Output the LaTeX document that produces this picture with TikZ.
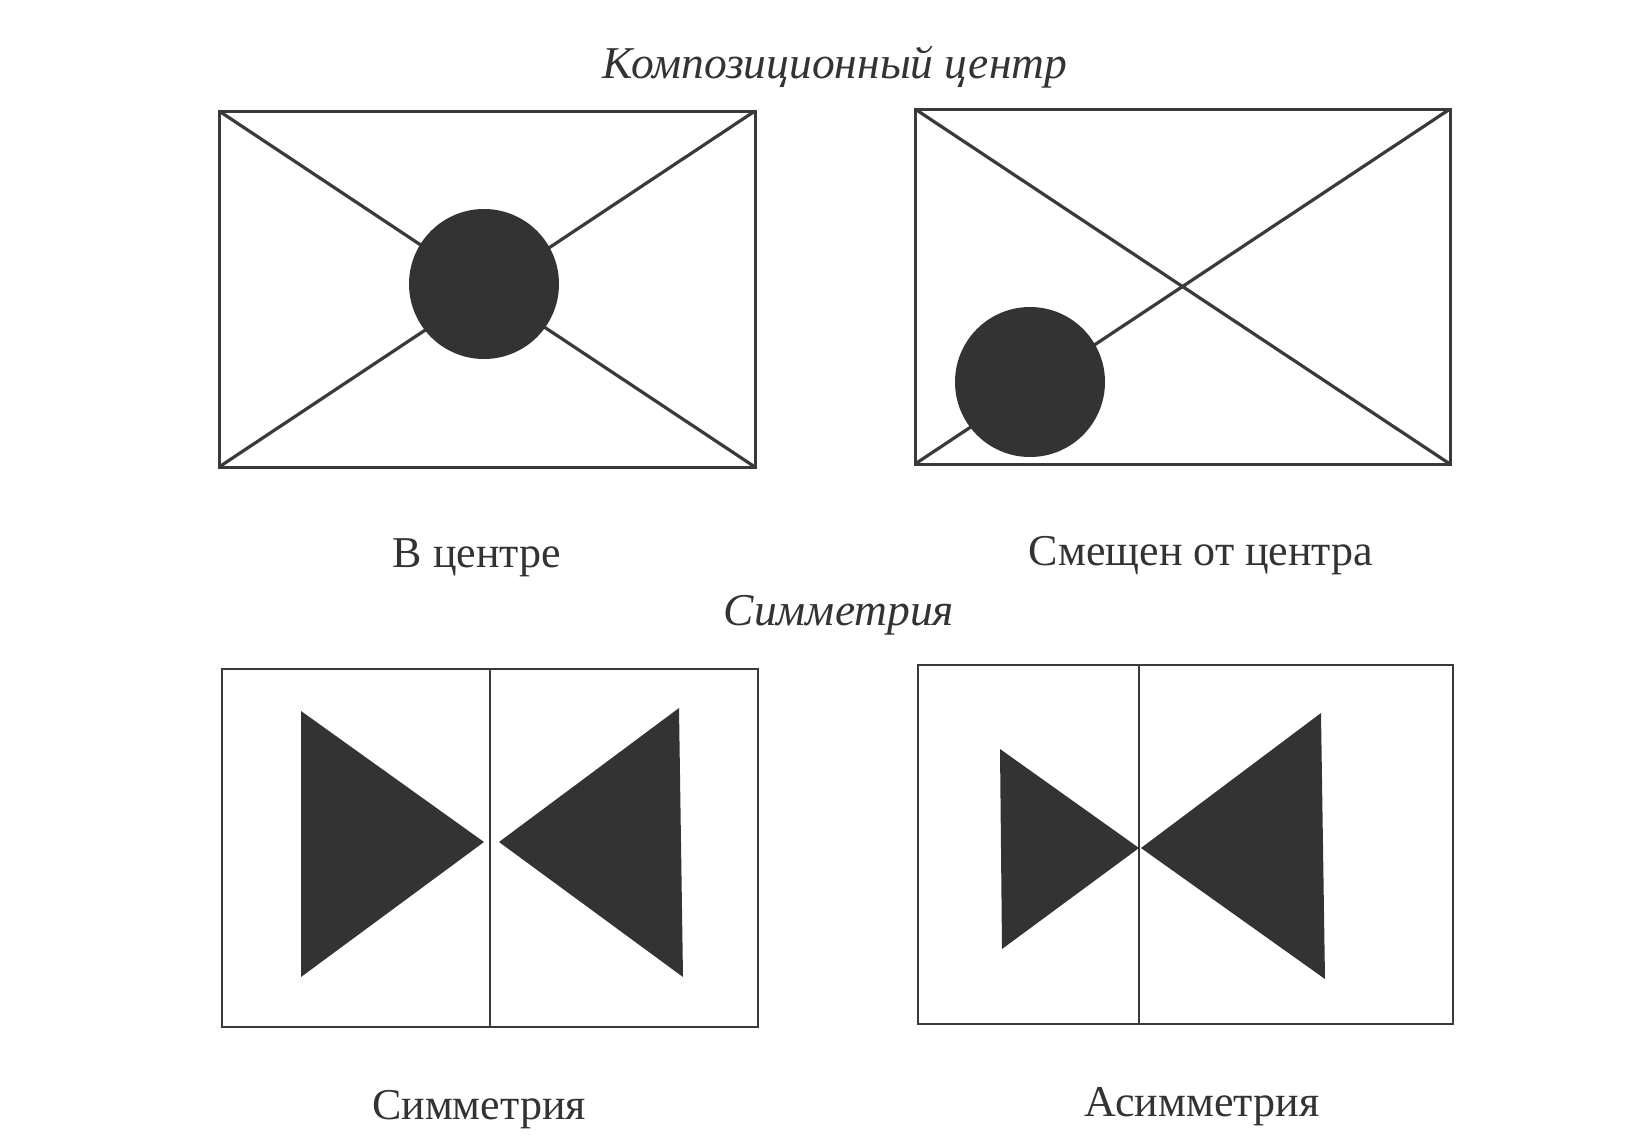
\documentclass[tikz,border=0pt]{standalone}
\usepackage{fontspec}
\setmainfont{Liberation Serif}
\usepackage{xcolor}
\usepackage{tikz}
\definecolor{ink}{HTML}{333333}
\definecolor{frame}{HTML}{3A3A3A}

\begin{document}
\begin{tikzpicture}[x=1pt, y=-1pt,
    caption/.style={font=\fontsize{44}{50}\selectfont, text=ink, inner sep=0pt, anchor=base},
    heading/.style={font=\fontsize{45.5}{50}\selectfont\itshape, text=ink, inner sep=0pt, anchor=base}]
        \useasboundingbox[fill=white] (0,0) rectangle (1626,1141);
        % composition centre
        \node[heading] (titlecentre) at (835,78) {Композиционный центр};
        \draw[frame, line width=3pt] (219,111) rectangle (755,467);
        \draw[frame, line width=3.2pt] (219,111) -- (755,467) (219,467) -- (755,111);
        \fill[ink] (484,284) circle (75);
        \node[caption] (incentre) at (477,567) {В центре};
        \draw[frame, line width=3pt] (915,109) rectangle (1450,464);
        \draw[frame, line width=3.2pt] (915,109) -- (1450,464) (915,464) -- (1450,109);
        \fill[ink] (1030,382) circle (75);
        \node[caption] (offcentre) at (1201,565) {Смещен от центра};
        % symmetry
        \node[heading] (titlesym) at (839,625) {Симметрия};
        \draw[frame, line width=2.6pt] (222,669) rectangle (758,1027);
        \draw[frame, line width=2.2pt] (490,669) -- (490,1027);
        \fill[ink] (301,711) -- (301,977) -- (484,842) -- cycle;
        \fill[ink] (679,708) -- (683,977) -- (499,842) -- cycle;
        \node[caption] (sym) at (479,1119) {Симметрия};
        \draw[frame, line width=2.6pt] (918,665) rectangle (1453,1024);
        \draw[frame, line width=2.2pt] (1139,665) -- (1139,1024);
        \fill[ink] (1000,749) -- (1002,949) -- (1139,848) -- cycle;
        \fill[ink] (1321,713) -- (1325,979) -- (1141,848) -- cycle;
        \node[caption] (asym) at (1202,1116) {Асимметрия};
      \end{tikzpicture}
\end{document}
